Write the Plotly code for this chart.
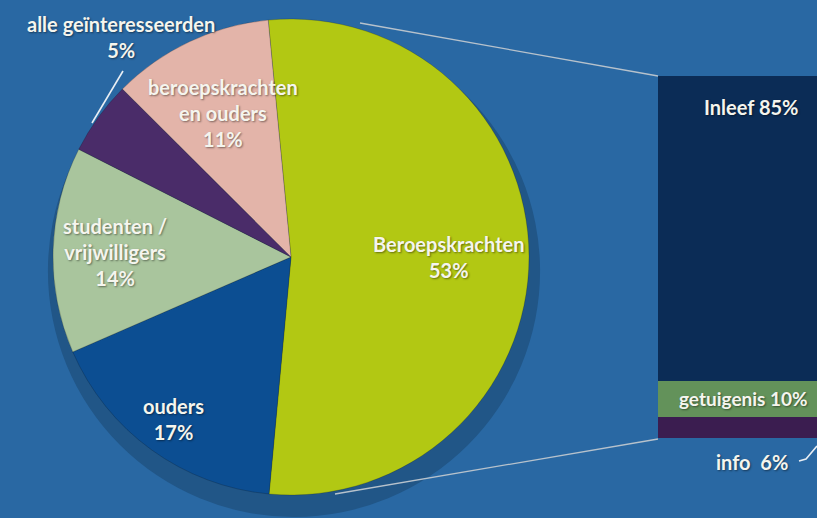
import math
import plotly.graph_objects as go

# ---- data ----
pie_labels = ["Beroepskrachten", "ouders", "studenten /<br>vrijwilligers",
              "alle geïnteresseerden", "beroepskrachten<br>en ouders"]
pie_values = [53, 17, 14, 5, 11]
pie_colors = ["#b2c813", "#0c4e92", "#a9c59d", "#4a2c69", "#e3b4a9"]

bar_labels = ["info", "getuigenis", "Inleef"]
bar_values = [6, 10, 85]
bar_colors = ["#3b1d50", "#63925a", "#0b2c56"]

W, H = 817, 518
BG = "#2968a3"
TXT = "#f5f5ee"
FONT = "Lato"

# pie geometry (pixels)
CX, CY, R = 291, 257, 238
ROT = -5.5  # start angle, degrees clockwise from 12 o'clock

def px(x):
    return min(max(x / W, 0.0), 1.0)

def py(y):
    return min(max(1 - y / H, 0.0), 1.0)

fig = go.Figure()

# shadow behind the pie
SR, SDX, SDY = 246, 3, 14
fig.add_trace(go.Pie(
    values=[1], marker=dict(colors=["#215687"], line=dict(width=0)),
    textinfo="none", hoverinfo="skip", showlegend=False, sort=False,
    domain=dict(x=[px(CX + SDX - SR), px(CX + SDX + SR)],
                y=[py(CY + SDY + SR), py(CY + SDY - SR)]),
))

fig.add_trace(go.Pie(
    labels=pie_labels, values=pie_values, sort=False, direction="clockwise",
    rotation=ROT % 360,
    marker=dict(colors=pie_colors, line=dict(color="rgba(0,0,0,0.18)", width=1)),
    textinfo="none", showlegend=False, hoverinfo="label+percent",
    domain=dict(x=[px(CX - R), px(CX + R)], y=[py(CY + R), py(CY - R)]),
))

# stacked bar
for lab, val, col in zip(bar_labels, bar_values, bar_colors):
    fig.add_trace(go.Bar(
        x=[0], y=[val], width=1, name=lab, marker=dict(color=col, line=dict(width=0)),
        showlegend=False, hoverinfo="skip",
    ))

total = sum(bar_values)
font = dict(family=FONT, size=20, color=TXT, weight="bold",
            shadow="1px 1px 2px rgba(0,0,0,0.45)")

def ann(x, y, text, xref="paper", yref="paper", size=None):
    f = dict(font)
    if size:
        f["size"] = size
    return dict(x=x, y=y, xref=xref, yref=yref, text=text, showarrow=False,
                xanchor="center", yanchor="middle", font=f)

annotations = []
# pie labels from slice mid-angles
radial = [0.66, 0.84, 0.74, None, 0.67]
cum = 0
for lab, val, rf in zip(pie_labels, pie_values, radial):
    mid = ROT + (cum + val / 2) / sum(pie_values) * 360
    cum += val
    text = f"{lab}<br>{val}%"
    if rf is None:
        annotations.append(ann(px(121), py(37), text))
        continue
    a = math.radians(mid)
    lx = CX + rf * R * math.sin(a)
    ly = CY - rf * R * math.cos(a)
    annotations.append(ann(px(lx), py(ly), text))

# bar labels
annotations.append(ann(0, total - 8.7, f"{bar_labels[2]} {bar_values[2]}%", "x", "y"))
annotations.append(ann(-0.04, bar_values[0] + bar_values[1] / 2,
                       f"{bar_labels[1]} {bar_values[1]}%", "x", "y", size=19))
annotations.append(ann(px(752), py(462), f"{bar_labels[0]}  {bar_values[0]}%"))

BAR_X0, BAR_TOP, BAR_BOT = 658, 76, 438
line_col = "#b7c2cc"
shapes = [
    dict(type="line", xref="paper", yref="paper", x0=px(360), y0=py(23), x1=px(BAR_X0), y1=py(BAR_TOP),
         line=dict(color=line_col, width=1.3)),
    dict(type="line", xref="paper", yref="paper", x0=px(335), y0=py(494), x1=px(BAR_X0), y1=py(BAR_BOT + 1),
         line=dict(color=line_col, width=1.3)),
    dict(type="line", xref="paper", yref="paper", x0=px(123), y0=py(71), x1=px(92), y1=py(123),
         line=dict(color="#e8eef4", width=1.6)),
    dict(type="path", xref="paper", yref="paper",
         path=f"M {px(799)} {py(461)} L {px(806)} {py(459)} L {px(817)} {py(446)}",
         line=dict(color="#e8eef4", width=1.6)),
]

bar_w_px = 186
fig.update_layout(
    width=W, height=H, margin=dict(l=0, r=0, t=0, b=0),
    paper_bgcolor=BG, plot_bgcolor=BG, barmode="stack", bargap=0,
    xaxis=dict(domain=[px(BAR_X0), 1], range=[-0.5, -0.5 + (W - BAR_X0) / bar_w_px],
               visible=False, fixedrange=True),
    yaxis=dict(domain=[py(BAR_BOT), py(BAR_TOP)], range=[0, total],
               visible=False, fixedrange=True),
    annotations=annotations, shapes=shapes,
)

fig.write_html("out.html", config={"displayModeBar": False})

# remove the default page margin so the figure fills the window
with open("out.html", encoding="utf-8") as f:
    html = f.read()
html = html.replace("<head>", "<head><style>html,body{margin:0;padding:0;overflow:hidden;}</style>", 1)
with open("out.html", "w", encoding="utf-8") as f:
    f.write(html)
